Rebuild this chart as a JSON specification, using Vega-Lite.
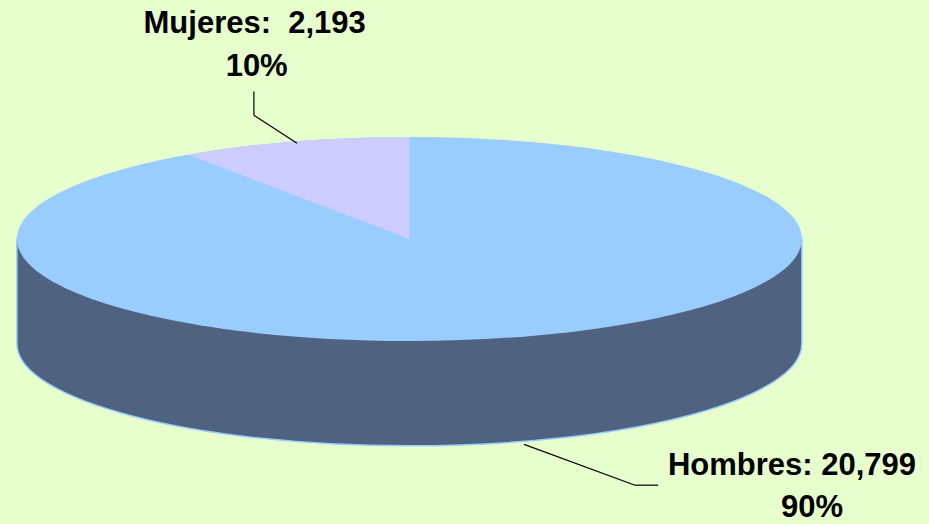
{
  "$schema": "https://vega.github.io/schema/vega-lite/v6.json",
  "autosize": {"type": "fit", "contains": "padding"},
  "width": 929,
  "height": 524,
  "padding": 0,
  "background": "#E6FFCC",
  "view": {"stroke": null},
  "data": {"values": [
    {"sexo": "Hombres", "valor": 20799},
    {"sexo": "Mujeres", "valor": 2193}
  ]},
  "transform": [
    {"joinaggregate": [{"op": "sum", "field": "valor", "as": "total"}]},
    {"calculate": "datum.valor / datum.total", "as": "share"},
    {"calculate": "datum.sexo + ':' + (datum.valor < 10000 ? '\u00a0\u00a0' : '\u00a0') + format(datum.valor, ',')", "as": "etiqueta"}
  ],
  "layer": [
    {
      "transform": [{"filter": "datum.sexo === 'Hombres'"}],
      "mark": {"type": "point", "filled": true, "opacity": 1, "color": "#4F6280", "stroke": "#99CCFF", "strokeWidth": 1.5, "size": 616225,
        "shape": "M-1,0 L-1,0.267 C-1,0.4106 -0.5523,0.527 0,0.527 C0.5523,0.527 1,0.4106 1,0.267 L1,0 Z"},
      "encoding": {
        "x": {"datum": 0, "type": "quantitative", "scale": {"domain": [-1.04, 1.32], "zero": false, "nice": false}, "axis": null},
        "y": {"datum": 0, "type": "quantitative", "scale": {"domain": [-0.61, 0.72], "reverse": true, "zero": false, "nice": false}, "axis": null}
      }
    },
    {
      "mark": {"type": "point", "filled": true, "opacity": 1, "size": 616225, "strokeWidth": 0},
      "encoding": {
        "x": {"datum": 0, "type": "quantitative", "scale": {"domain": [-1.04, 1.32], "zero": false, "nice": false}, "axis": null},
        "y": {"datum": 0, "type": "quantitative", "scale": {"domain": [-0.61, 0.72], "reverse": true, "zero": false, "nice": false}, "axis": null},
        "shape": {"field": "sexo", "type": "nominal", "legend": null, "scale": {"domain": ["Hombres", "Mujeres"], "range": [
          "M-1,0 C-1,-0.1436 -0.5523,-0.26 0,-0.26 C0.5523,-0.26 1,-0.1436 1,0 C1,0.1436 0.5523,0.26 0,0.26 C-0.5523,0.26 -1,0.1436 -1,0 Z",
          "M0,0 L0,-0.26 C-0.2011,-0.26 -0.3975,-0.2442 -0.5636,-0.2148 Z"
        ]}},
        "color": {"field": "sexo", "type": "nominal", "legend": null, "scale": {"domain": ["Hombres", "Mujeres"], "range": ["#99CCFF", "#CCCCFF"]}},
        "order": {"field": "valor", "type": "quantitative", "sort": "descending"}
      }
    },
    {
      "transform": [{"filter": "datum.sexo === 'Mujeres'"}],
      "mark": {"type": "rule", "color": "#000000", "strokeWidth": 1.2},
      "encoding": {
        "x": {"datum": -0.395, "type": "quantitative", "scale": {"domain": [-1.04, 1.32], "zero": false, "nice": false}, "axis": null},
        "y": {"datum": -0.3765, "type": "quantitative", "scale": {"domain": [-0.61, 0.72], "reverse": true, "zero": false, "nice": false}, "axis": null},
        "x2": {"datum": -0.395},
        "y2": {"datum": -0.3156}
      }
    },
    {
      "transform": [{"filter": "datum.sexo === 'Mujeres'"}],
      "mark": {"type": "rule", "color": "#000000", "strokeWidth": 1.2},
      "encoding": {
        "x": {"datum": -0.395, "type": "quantitative", "scale": {"domain": [-1.04, 1.32], "zero": false, "nice": false}, "axis": null},
        "y": {"datum": -0.3156, "type": "quantitative", "scale": {"domain": [-0.61, 0.72], "reverse": true, "zero": false, "nice": false}, "axis": null},
        "x2": {"datum": -0.2854},
        "y2": {"datum": -0.2445}
      }
    },
    {
      "transform": [{"filter": "datum.sexo === 'Hombres'"}],
      "mark": {"type": "rule", "color": "#000000", "strokeWidth": 1.2},
      "encoding": {
        "x": {"datum": 0.2913, "type": "quantitative", "scale": {"domain": [-1.04, 1.32], "zero": false, "nice": false}, "axis": null},
        "y": {"datum": 0.5245, "type": "quantitative", "scale": {"domain": [-0.61, 0.72], "reverse": true, "zero": false, "nice": false}, "axis": null},
        "x2": {"datum": 0.5733},
        "y2": {"datum": 0.6286}
      }
    },
    {
      "transform": [{"filter": "datum.sexo === 'Hombres'"}],
      "mark": {"type": "rule", "color": "#000000", "strokeWidth": 1.2},
      "encoding": {
        "x": {"datum": 0.5733, "type": "quantitative", "scale": {"domain": [-1.04, 1.32], "zero": false, "nice": false}, "axis": null},
        "y": {"datum": 0.6286, "type": "quantitative", "scale": {"domain": [-0.61, 0.72], "reverse": true, "zero": false, "nice": false}, "axis": null},
        "x2": {"datum": 0.6318},
        "y2": {"datum": 0.6286}
      }
    },
    {
      "transform": [{"filter": "datum.sexo === 'Mujeres'"}],
      "mark": {"type": "text", "font": "Liberation Sans", "fontWeight": "bold", "fontSize": 31, "align": "center", "baseline": "alphabetic", "color": "#000000"},
      "encoding": {
        "x": {"datum": -0.393, "type": "quantitative", "scale": {"domain": [-1.04, 1.32], "zero": false, "nice": false}, "axis": null},
        "y": {"datum": -0.526, "type": "quantitative", "scale": {"domain": [-0.61, 0.72], "reverse": true, "zero": false, "nice": false}, "axis": null},
        "text": {"field": "etiqueta", "type": "nominal"}
      }
    },
    {
      "transform": [{"filter": "datum.sexo === 'Mujeres'"}],
      "mark": {"type": "text", "font": "Liberation Sans", "fontWeight": "bold", "fontSize": 31, "align": "center", "baseline": "alphabetic", "color": "#000000"},
      "encoding": {
        "x": {"datum": -0.388, "type": "quantitative", "scale": {"domain": [-1.04, 1.32], "zero": false, "nice": false}, "axis": null},
        "y": {"datum": -0.417, "type": "quantitative", "scale": {"domain": [-0.61, 0.72], "reverse": true, "zero": false, "nice": false}, "axis": null},
        "text": {"field": "share", "type": "quantitative", "format": ".0%"}
      }
    },
    {
      "transform": [{"filter": "datum.sexo === 'Hombres'"}],
      "mark": {"type": "text", "font": "Liberation Sans", "fontWeight": "bold", "fontSize": 31, "align": "center", "baseline": "alphabetic", "color": "#000000"},
      "encoding": {
        "x": {"datum": 0.972, "type": "quantitative", "scale": {"domain": [-1.04, 1.32], "zero": false, "nice": false}, "axis": null},
        "y": {"datum": 0.603, "type": "quantitative", "scale": {"domain": [-0.61, 0.72], "reverse": true, "zero": false, "nice": false}, "axis": null},
        "text": {"field": "etiqueta", "type": "nominal"}
      }
    },
    {
      "transform": [{"filter": "datum.sexo === 'Hombres'"}],
      "mark": {"type": "text", "font": "Liberation Sans", "fontWeight": "bold", "fontSize": 31, "align": "center", "baseline": "alphabetic", "color": "#000000"},
      "encoding": {
        "x": {"datum": 1.023, "type": "quantitative", "scale": {"domain": [-1.04, 1.32], "zero": false, "nice": false}, "axis": null},
        "y": {"datum": 0.710, "type": "quantitative", "scale": {"domain": [-0.61, 0.72], "reverse": true, "zero": false, "nice": false}, "axis": null},
        "text": {"field": "share", "type": "quantitative", "format": ".0%"}
      }
    }
  ]
}
